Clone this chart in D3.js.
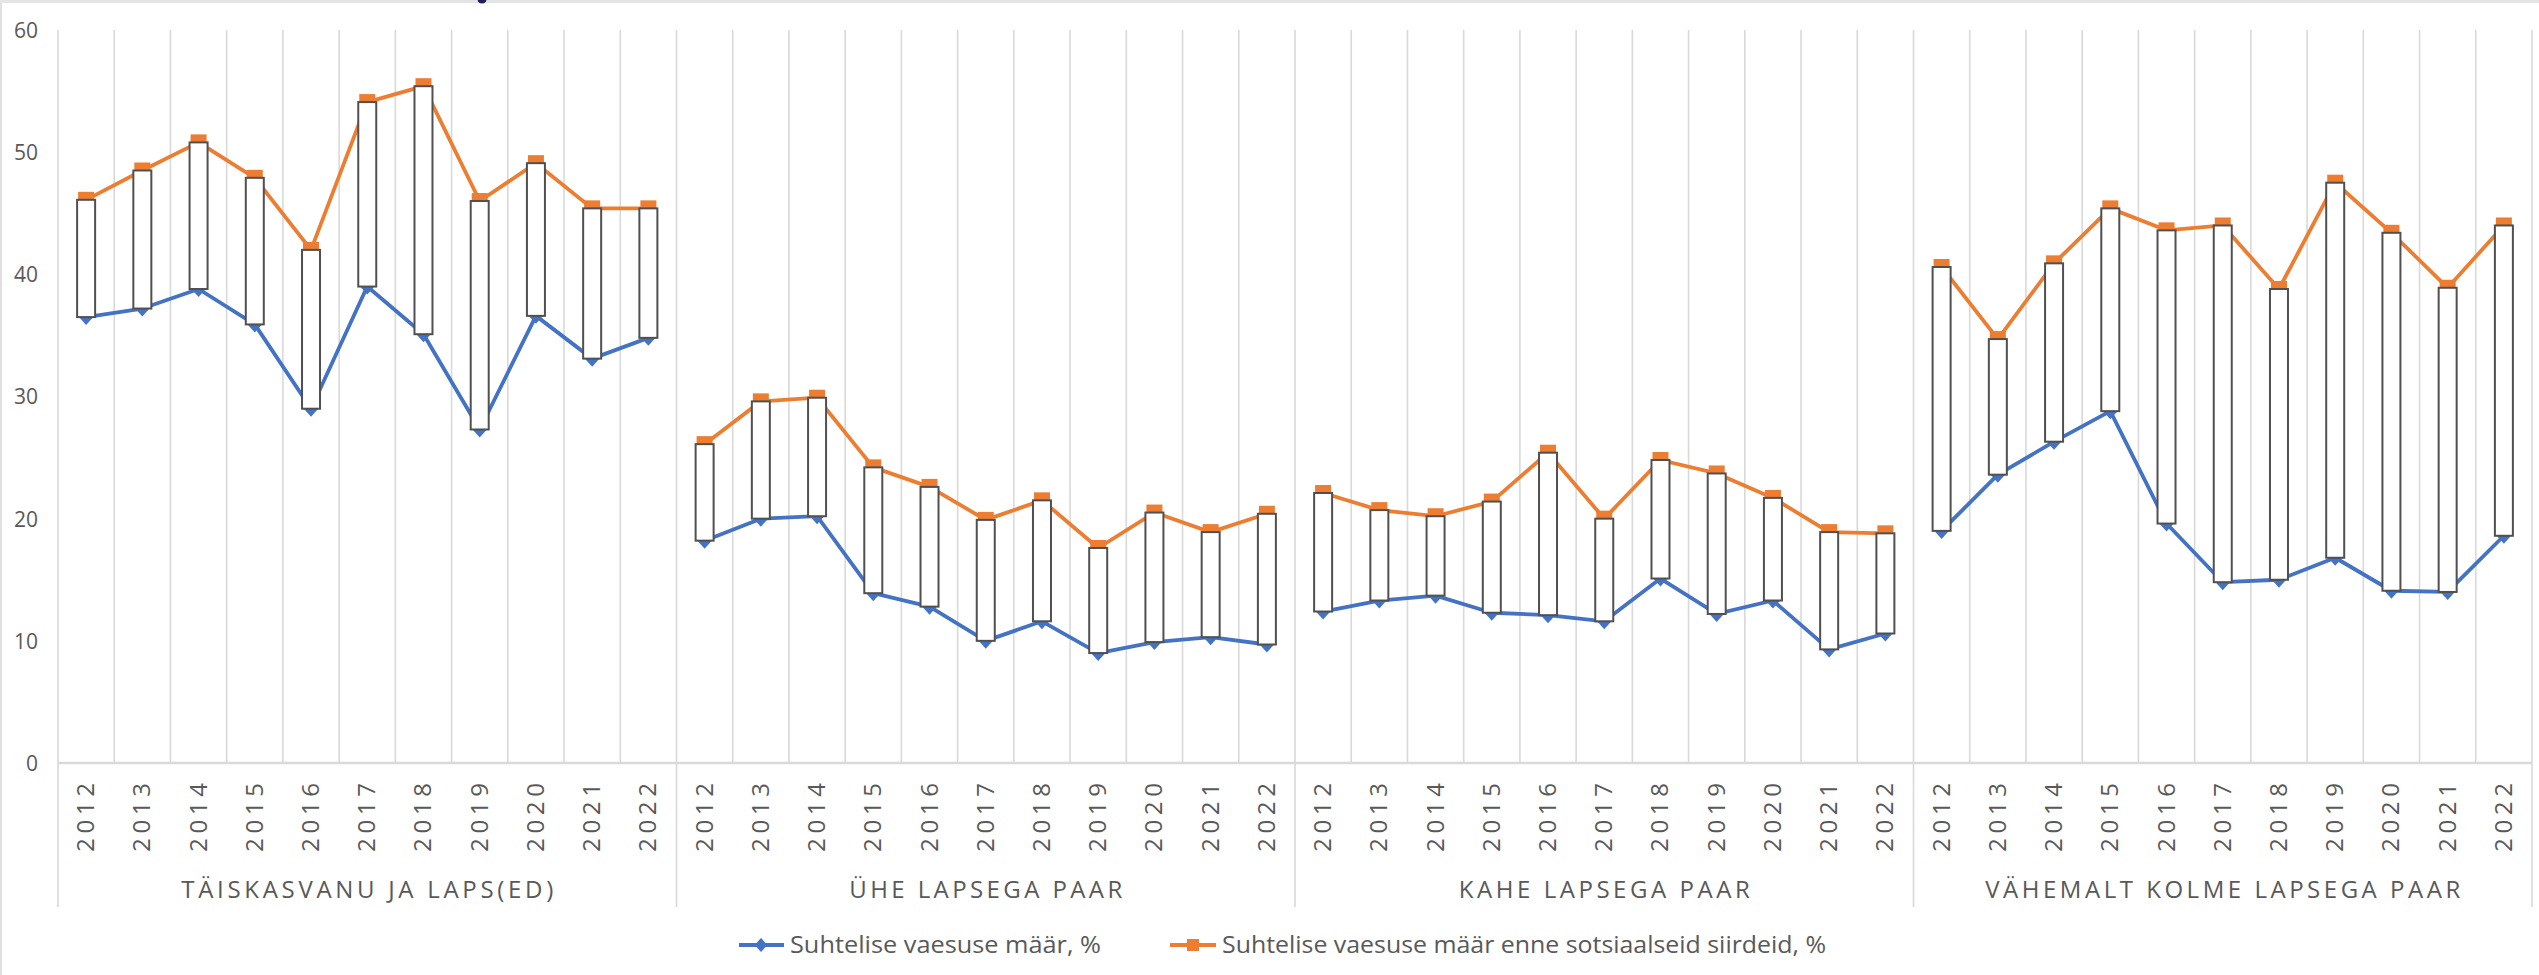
<!DOCTYPE html>
<html>
<head>
<meta charset="utf-8">
<script src="https://cdn.jsdelivr.net/npm/d3@7"></script>
<style>
  html, body { margin: 0; padding: 0; background: #fff; }
  svg { display: block; }
  text { font-family: "Open Sans", "Noto Sans", sans-serif; fill: #595959; }
</style>
</head>
<body>
<svg id="chart" width="2539" height="975"></svg>
<script>
// ---- data ----
const groups = ["TÄISKASVANU JA LAPS(ED)", "ÜHE LAPSEGA PAAR", "KAHE LAPSEGA PAAR", "VÄHEMALT KOLME LAPSEGA PAAR"];
const years = ["2012","2013","2014","2015","2016","2017","2018","2019","2020","2021","2022"];
const seriesNames = ["Suhtelise vaesuse määr, %", "Suhtelise vaesuse määr enne sotsiaalseid siirdeid, %"];
// Suhtelise vaesuse määr, %
const povertyAdultChild = [36.5, 37.2, 38.8, 35.9, 29.0, 39.0, 35.1, 27.3, 36.6, 33.1, 34.8];
const povertyOneChild   = [18.2, 20.0, 20.2, 13.9, 12.8, 10.0, 11.6, 9.0, 9.9, 10.3, 9.7];
const povertyTwoChild   = [12.4, 13.3, 13.7, 12.3, 12.1, 11.6, 15.1, 12.2, 13.3, 9.3, 10.6];
const povertyThreeChild = [19.0, 23.6, 26.3, 28.8, 19.6, 14.8, 15.0, 16.8, 14.1, 14.0, 18.6];
// Suhtelise vaesuse määr enne sotsiaalseid siirdeid, %
const beforeAdultChild = [46.1, 48.5, 50.8, 47.9, 42.0, 54.1, 55.4, 46.0, 49.1, 45.4, 45.4];
const beforeOneChild   = [26.1, 29.6, 29.9, 24.2, 22.6, 19.9, 21.5, 17.6, 20.5, 18.9, 20.4];
const beforeTwoChild   = [22.1, 20.7, 20.2, 21.4, 25.4, 20.0, 24.8, 23.7, 21.7, 18.9, 18.8];
const beforeThreeChild = [40.6, 34.7, 40.9, 45.4, 43.6, 44.0, 38.8, 47.5, 43.4, 38.9, 44.0];
const yTicks = [0, 10, 20, 30, 40, 50, 60];

const povertyByGroup = [povertyAdultChild, povertyOneChild, povertyTwoChild, povertyThreeChild];
const beforeByGroup = [beforeAdultChild, beforeOneChild, beforeTwoChild, beforeThreeChild];

// ---- layout ----
const W = 2539, H = 975;
const pLeft = 58, pRight = 2532, pTop = 30, pBottom = 763;
const BLUE = "#4472C4", ORANGE = "#ED7D31", GRID = "#d9d9d9", TXT = "#595959";

const svg = d3.select("#chart");

// frame
svg.append("rect").attr("x", 0).attr("y", 0).attr("width", W).attr("height", 3).attr("fill", "#e4e4e6");
svg.append("line").attr("x1", 1).attr("x2", 1).attr("y1", 3).attr("y2", H).attr("stroke", "#e0e0e0").attr("stroke-width", 2);
svg.append("circle").attr("cx", 482).attr("cy", -1).attr("r", 4.5).attr("fill", "#1f1f5a");

const rows = [];
groups.forEach((g, gi) => years.forEach((yr, yi) => rows.push({
  key: g + "|" + yr, group: g, gi, year: yr,
  low: povertyByGroup[gi][yi], high: beforeByGroup[gi][yi]
})));

const x = d3.scaleBand().domain(rows.map(d => d.key)).range([pLeft, pRight]).padding(0);
const y = d3.scaleLinear().domain([0, 60]).range([pBottom, pTop]);
const cx = d => x(d.key) + x.bandwidth() / 2;

// vertical gridlines at category boundaries
const bounds = rows.map(d => x(d.key)).concat([pRight]);
svg.append("g").selectAll("line").data(bounds).join("line")
  .attr("x1", d => d).attr("x2", d => d)
  .attr("y1", y(60)).attr("y2", pBottom)
  .attr("stroke", GRID).attr("stroke-width", 1.6);

// y axis labels
const yAxis = d3.axisLeft(y).tickValues(yTicks).tickSize(0).tickPadding(0);
const yg = svg.append("g").attr("transform", `translate(${pLeft - 20},0)`).call(yAxis);
yg.select(".domain").remove();
yg.selectAll("text").attr("font-size", 21).style("fill", TXT)
  .style("font-family", '"Open Sans", sans-serif').attr("dy", "0.35em");

// x axis line
svg.append("line").attr("x1", pLeft).attr("x2", pRight).attr("y1", pBottom).attr("y2", pBottom)
  .attr("stroke", GRID).attr("stroke-width", 2.5);

// group separators (below axis)
const groupEdges = groups.map(g => x(g + "|" + years[0])).concat([pRight]);
svg.append("g").selectAll("line").data(groupEdges).join("line")
  .attr("x1", d => d).attr("x2", d => d)
  .attr("y1", pBottom).attr("y2", 907)
  .attr("stroke", GRID).attr("stroke-width", 1.6);

// year labels
svg.append("g").selectAll("text").data(rows).join("text")
  .attr("transform", d => `translate(${cx(d) + 8},783) rotate(-90)`)
  .attr("text-anchor", "end")
  .attr("font-size", 24)
  .attr("textLength", 69).attr("lengthAdjust", "spacing")
  .text(d => d.year);

// group labels
const groupWidths = [372, 273, 291, 475];
svg.append("g").selectAll("text").data(groups).join("text")
  .attr("x", (g, i) => (groupEdges[i] + groupEdges[i + 1]) / 2 - groupWidths[i] / 2)
  .attr("y", 898)
  .attr("font-size", 24)
  .attr("textLength", (g, i) => groupWidths[i]).attr("lengthAdjust", "spacing")
  .text(g => g);

// lines per group
const lineLow = d3.line().x(cx).y(d => y(d.low));
const lineHigh = d3.line().x(cx).y(d => y(d.high));
const byGroup = d3.groups(rows, d => d.gi).map(e => e[1]);
svg.append("g").selectAll("path").data(byGroup).join("path")
  .attr("d", lineLow).attr("fill", "none").attr("stroke", BLUE).attr("stroke-width", 3.8)
  .attr("stroke-linejoin", "round");
svg.append("g").selectAll("path").data(byGroup).join("path")
  .attr("d", lineHigh).attr("fill", "none").attr("stroke", ORANGE).attr("stroke-width", 3.8)
  .attr("stroke-linejoin", "round");

// markers
const diamond = (s) => `M0,${-s}L${s * 0.9},0L0,${s}L${-s * 0.9},0Z`;
svg.append("g").selectAll("path").data(rows).join("path")
  .attr("transform", d => `translate(${cx(d)},${y(d.low)})`)
  .attr("d", diamond(8)).attr("fill", BLUE);
svg.append("g").selectAll("rect").data(rows).join("rect")
  .attr("x", d => cx(d) - 8).attr("y", d => y(d.high) - 8)
  .attr("width", 16).attr("height", 16).attr("fill", ORANGE);

// up-down bars
const bw = 18;
svg.append("g").selectAll("rect").data(rows).join("rect")
  .attr("x", d => cx(d) - bw / 2)
  .attr("y", d => y(Math.max(d.low, d.high)))
  .attr("width", bw)
  .attr("height", d => Math.abs(y(d.low) - y(d.high)))
  .attr("fill", "#fff").attr("stroke", "#505050").attr("stroke-width", 2);

// legend
const lg = svg.append("g");
const legY = 945;
lg.append("line").attr("x1", 739).attr("x2", 784).attr("y1", legY).attr("y2", legY)
  .attr("stroke", BLUE).attr("stroke-width", 3.8);
lg.append("path").attr("transform", `translate(761,${legY})`).attr("d", diamond(7)).attr("fill", BLUE);
lg.append("text").attr("x", 790).attr("y", legY).attr("dy", "0.35em").attr("font-size", 23)
  .attr("textLength", 311).attr("lengthAdjust", "spacingAndGlyphs").text(seriesNames[0]);
lg.append("line").attr("x1", 1170).attr("x2", 1216).attr("y1", legY).attr("y2", legY)
  .attr("stroke", ORANGE).attr("stroke-width", 3.8);
lg.append("rect").attr("x", 1187).attr("y", legY - 6).attr("width", 12).attr("height", 12).attr("fill", ORANGE);
lg.append("text").attr("x", 1222).attr("y", legY).attr("dy", "0.35em").attr("font-size", 23)
  .attr("textLength", 604).attr("lengthAdjust", "spacingAndGlyphs").text(seriesNames[1]);
</script>
</body>
</html>
